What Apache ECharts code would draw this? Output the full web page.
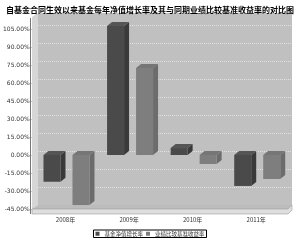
<!DOCTYPE html>
<html><head><meta charset="utf-8">
<script src="https://cdn.jsdelivr.net/npm/echarts/dist/echarts.min.js"></script>
<style>html,body{margin:0;padding:0;background:#fff}#c{width:300px;height:242px}</style>
</head><body><div id="c"></div>
<script>
const titleText = '自基金合同生效以来基金每年净值增长率及其与同期业绩比较基准收益率的对比图';
const categories = ['2008年', '2009年', '2010年', '2011年'];
const seriesNames = ['基金净值增长率', '业绩比较基准收益率'];
const fundGrowth = [-22.3, 107.5, 5.8, -25.8];
const benchmarkReturn = [-41.7, 72.5, -7.5, -20.0];
const yMin = -45, yMax = 115, yInterval = 15;

const palette = [
  {front: '#4a4a4a', side: '#3a3a3a', top: '#555555'},
  {front: '#7e7e7e', side: '#6c6c6c', top: '#767676'}
];

function makeRender(idx) {
  const col = palette[idx];
  return function (params, api) {
    const c = api.value(0), v = api.value(1);
    const p0 = api.coord([c, 0]);
    const pv = api.coord([c, v]);
    const bw = 17, gap = 12, dx = 5, dy = -4;
    const cx = p0[0] + 1 + (idx === 0 ? -(gap / 2 + bw / 2) : (gap / 2 + bw / 2));
    const x0 = cx - bw / 2, x1 = cx + bw / 2;
    const yt = Math.min(p0[1], pv[1]), yb = Math.max(p0[1], pv[1]);
    return {
      type: 'group',
      children: [
        {type: 'polygon', shape: {points: [[x1, yt], [x1 + dx, yt + dy], [x1 + dx, yb + dy], [x1, yb]]}, style: {fill: col.side}},
        {type: 'polygon', shape: {points: [[x0, yt], [x0 + dx, yt + dy], [x1 + dx, yt + dy], [x1, yt]]}, style: {fill: col.top}},
        {type: 'rect', shape: {x: x0, y: yt, width: bw, height: yb - yt}, style: {fill: col.front}}
      ]
    };
  };
}

const chart = echarts.init(document.getElementById('c'), null, {renderer: 'canvas'});
chart.setOption({
  animation: false,
  backgroundColor: '#ffffff',
  title: {
    text: titleText, left: 1, top: 1,
    textStyle: {fontSize: 8, fontWeight: 'bold', color: '#000', fontFamily: 'Noto Sans CJK SC'}
  },
  legend: {
    data: seriesNames, left: 'center', top: 230,
    itemWidth: 4, itemHeight: 4, itemGap: 3, icon: 'rect',
    padding: [1, 2], borderColor: '#000', borderWidth: 1, backgroundColor: '#fff',
    textStyle: {fontSize: 5.5, color: '#333', fontFamily: 'Noto Sans CJK SC'}
  },
  grid: [
    {left: 32, right: 12, top: 17, height: 192, containLabel: false},
    {left: 38, right: 8, top: 13, height: 192, show: true, backgroundColor: '#c0c0c0', borderWidth: 0}
  ],
  xAxis: [
    {type: 'category', gridIndex: 0, data: categories,
     axisLine: {show: false}, axisTick: {show: false},
     axisLabel: {fontSize: 6, color: '#333', margin: 8, fontFamily: 'Noto Sans CJK SC'}},
    {type: 'category', gridIndex: 1, data: categories, show: false}
  ],
  yAxis: [
    {type: 'value', gridIndex: 0, min: yMin, max: yMax, interval: yInterval,
     axisLine: {show: true, lineStyle: {color: '#666', width: 1}},
     axisTick: {show: true, length: 2, lineStyle: {color: '#666'}},
     splitLine: {show: false},
     axisLabel: {fontSize: 6, color: '#333', margin: 4, showMaxLabel: false, fontFamily: 'DejaVu Sans',
       formatter: v => v.toFixed(2) + '%'}},
    {type: 'value', gridIndex: 1, min: yMin, max: yMax, interval: yInterval,
     axisLine: {show: false}, axisTick: {show: false}, axisLabel: {show: false},
     splitLine: {show: true, showMaxLine: false, lineStyle: {color: '#e2e2e2', type: 'dotted', width: 1}}}
  ],
  graphic: [
    {type: 'polygon', z: 1, shape: {points: [[32, 17], [38, 13], [38, 205], [32, 209]]}, style: {fill: '#d6d6d6'}},
    {type: 'polygon', z: 1, shape: {points: [[32, 209], [38, 205], [292, 205], [288, 209]]}, style: {fill: '#bcbcbc'}},
    {type: 'polygon', z: 1, shape: {points: [[32, 209], [288, 209], [292, 205], [292, 210], [288, 214], [32, 214]]}, style: {fill: '#dedede', stroke: '#9a9a9a', lineWidth: 0.6}},
    {type: 'line', z: 1, shape: {x1: 30.5, y1: 18, x2: 30.5, y2: 214}, style: {stroke: '#777', lineWidth: 1}}
  ],
  series: [
    {name: seriesNames[0], type: 'custom', xAxisIndex: 0, yAxisIndex: 0, z: 3,
     itemStyle: {color: palette[0].front}, renderItem: makeRender(0),
     data: fundGrowth.map((v, i) => [i, v])},
    {name: seriesNames[1], type: 'custom', xAxisIndex: 0, yAxisIndex: 0, z: 3,
     itemStyle: {color: palette[1].front}, renderItem: makeRender(1),
     data: benchmarkReturn.map((v, i) => [i, v])}
  ]
});
</script></body></html>
